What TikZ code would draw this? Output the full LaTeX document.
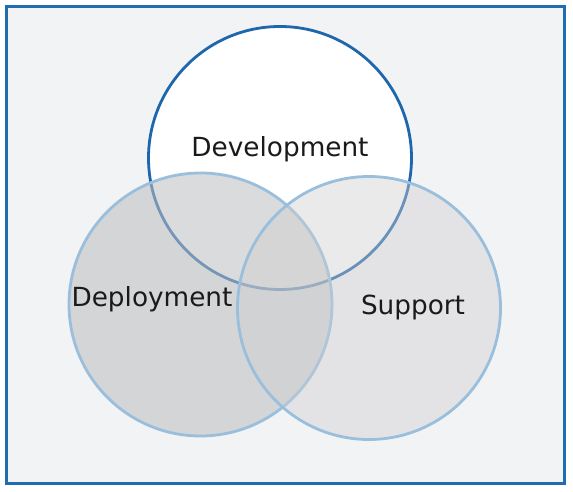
\documentclass[tikz,border=0pt]{standalone}
\usepackage{fontspec}
\setmainfont{DejaVu Sans}
\definecolor{framecol}{HTML}{1F6DB0}
\definecolor{bgcol}{HTML}{F2F3F5}
\definecolor{devcol}{HTML}{1E67AC}
\definecolor{ringcol}{HTML}{9ABFDD}
\definecolor{depfill}{HTML}{BDBEC0}
\definecolor{supfill}{HTML}{CFCFCF}
\definecolor{txtcol}{HTML}{1A1A1A}
\begin{document}
\begin{tikzpicture}[x=1pt,y=-1pt,
  ring/.style={circle,minimum size=263pt,inner sep=0pt,line width=2.8pt},
  lbl/.style={text=txtcol,font=\fontsize{26.3}{30}\selectfont,inner sep=0pt}]
\useasboundingbox (0,0) rectangle (573,492);
\fill[white] (0,0) rectangle (573,492);
\node[draw=framecol,fill=bgcol,line width=3pt,minimum width=557.5pt,minimum height=476.5pt,inner sep=0pt] (frame) at (285.25,244.75) {};
\node[ring,draw=devcol,fill=white] (dev) at (280,158) {};
\node[ring,draw=ringcol,fill=depfill,fill opacity=0.55] (dep) at (200.5,304.5) {};
\node[ring,draw=ringcol,fill=supfill,fill opacity=0.42] (sup) at (369,308) {};
\node[lbl] (devl) at (280,149) {Development};
\node[lbl] (depl) at (152,299) {Deployment};
\node[lbl] (supl) at (413,307) {Support};
\end{tikzpicture}
\end{document}
